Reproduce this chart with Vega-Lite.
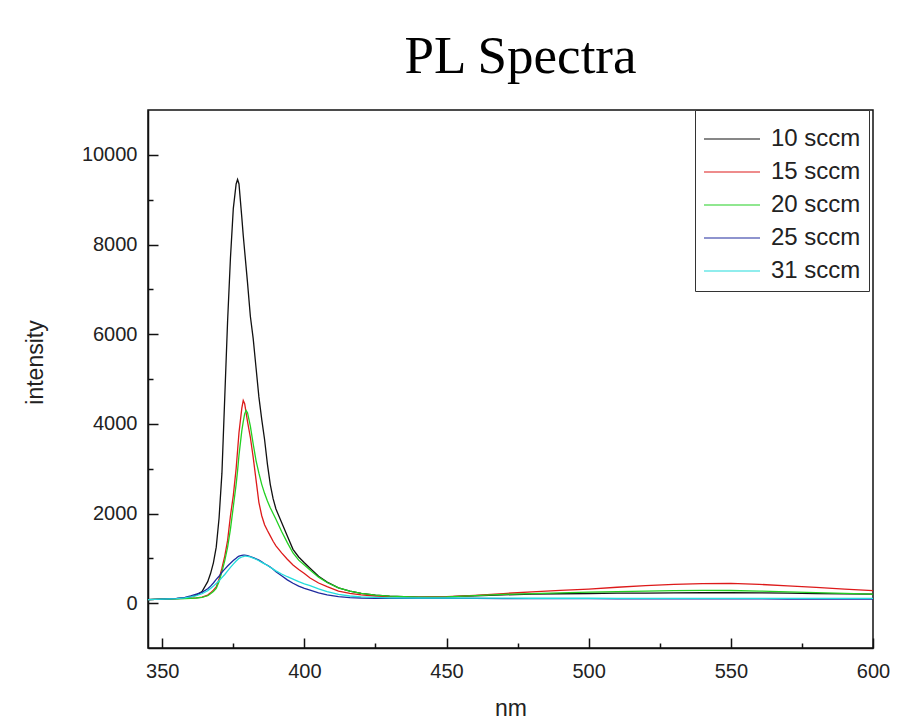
{
  "$schema": "https://vega.github.io/schema/vega-lite/v6.json",
  "width": 725,
  "height": 538,
  "autosize": {"type": "none"},
  "padding": {"left": 148, "top": 110, "right": 26, "bottom": 72},
  "background": "white",
  "title": {"text": "PL Spectra", "font": "Liberation Serif", "fontSize": 53, "fontWeight": "normal", "color": "#000000", "anchor": "middle", "dx": 10, "baseline": "alphabetic", "offset": -16},
  "config": {"view": {"stroke": "#111111", "strokeWidth": 1.5}},
  "data": {"values": [
    {"nm": 345, "10 sccm": 80, "15 sccm": 80, "20 sccm": 80, "25 sccm": 80, "31 sccm": 80},
    {"nm": 350, "10 sccm": 90, "15 sccm": 90, "20 sccm": 90, "25 sccm": 90, "31 sccm": 90},
    {"nm": 355, "10 sccm": 100, "15 sccm": 100, "20 sccm": 95, "25 sccm": 105, "31 sccm": 100},
    {"nm": 358, "10 sccm": 115, "15 sccm": 105, "20 sccm": 100, "25 sccm": 130, "31 sccm": 120},
    {"nm": 360, "10 sccm": 140, "15 sccm": 110, "20 sccm": 105, "25 sccm": 160, "31 sccm": 140},
    {"nm": 362, "10 sccm": 180, "15 sccm": 120, "20 sccm": 115, "25 sccm": 200, "31 sccm": 170},
    {"nm": 364, "10 sccm": 260, "15 sccm": 135, "20 sccm": 130, "25 sccm": 240, "31 sccm": 210},
    {"nm": 366, "10 sccm": 480, "15 sccm": 180, "20 sccm": 165, "25 sccm": 320, "31 sccm": 280},
    {"nm": 367, "10 sccm": 660, "15 sccm": 230, "20 sccm": 210, "25 sccm": 380, "31 sccm": 330},
    {"nm": 368, "10 sccm": 900, "15 sccm": 290, "20 sccm": 260, "25 sccm": 450, "31 sccm": 380},
    {"nm": 369, "10 sccm": 1250, "15 sccm": 360, "20 sccm": 330, "25 sccm": 530, "31 sccm": 440},
    {"nm": 370, "10 sccm": 1900, "15 sccm": 540, "20 sccm": 480, "25 sccm": 600, "31 sccm": 500},
    {"nm": 371, "10 sccm": 2900, "15 sccm": 780, "20 sccm": 700, "25 sccm": 690, "31 sccm": 570},
    {"nm": 372, "10 sccm": 4600, "15 sccm": 1050, "20 sccm": 950, "25 sccm": 760, "31 sccm": 640},
    {"nm": 373, "10 sccm": 6300, "15 sccm": 1400, "20 sccm": 1250, "25 sccm": 830, "31 sccm": 720},
    {"nm": 374, "10 sccm": 7700, "15 sccm": 1950, "20 sccm": 1650, "25 sccm": 890, "31 sccm": 800},
    {"nm": 375, "10 sccm": 8800, "15 sccm": 2400, "20 sccm": 2150, "25 sccm": 950, "31 sccm": 870},
    {"nm": 376, "10 sccm": 9350, "15 sccm": 3000, "20 sccm": 2650, "25 sccm": 1000, "31 sccm": 940},
    {"nm": 376.5, "10 sccm": 9450, "15 sccm": 3400, "20 sccm": 2950, "25 sccm": 1030, "31 sccm": 970},
    {"nm": 377, "10 sccm": 9350, "15 sccm": 3800, "20 sccm": 3300, "25 sccm": 1050, "31 sccm": 1000},
    {"nm": 378, "10 sccm": 8600, "15 sccm": 4350, "20 sccm": 3850, "25 sccm": 1065, "31 sccm": 1030},
    {"nm": 378.5, "10 sccm": 8200, "15 sccm": 4520, "20 sccm": 4050, "25 sccm": 1071, "31 sccm": 1040},
    {"nm": 379, "10 sccm": 7850, "15 sccm": 4450, "20 sccm": 4220, "25 sccm": 1070, "31 sccm": 1048},
    {"nm": 379.5, "10 sccm": 7500, "15 sccm": 4250, "20 sccm": 4300, "25 sccm": 1068, "31 sccm": 1050},
    {"nm": 380, "10 sccm": 7150, "15 sccm": 4050, "20 sccm": 4250, "25 sccm": 1060, "31 sccm": 1045},
    {"nm": 381, "10 sccm": 6400, "15 sccm": 3700, "20 sccm": 3950, "25 sccm": 1040, "31 sccm": 1030},
    {"nm": 382, "10 sccm": 5900, "15 sccm": 3250, "20 sccm": 3550, "25 sccm": 1015, "31 sccm": 1005},
    {"nm": 383, "10 sccm": 5250, "15 sccm": 2750, "20 sccm": 3180, "25 sccm": 990, "31 sccm": 980},
    {"nm": 384, "10 sccm": 4600, "15 sccm": 2250, "20 sccm": 2900, "25 sccm": 960, "31 sccm": 945},
    {"nm": 385, "10 sccm": 4100, "15 sccm": 1950, "20 sccm": 2650, "25 sccm": 920, "31 sccm": 910},
    {"nm": 386, "10 sccm": 3650, "15 sccm": 1750, "20 sccm": 2450, "25 sccm": 880, "31 sccm": 875},
    {"nm": 387, "10 sccm": 3100, "15 sccm": 1620, "20 sccm": 2280, "25 sccm": 845, "31 sccm": 840},
    {"nm": 388, "10 sccm": 2650, "15 sccm": 1500, "20 sccm": 2130, "25 sccm": 805, "31 sccm": 800},
    {"nm": 389, "10 sccm": 2330, "15 sccm": 1380, "20 sccm": 2000, "25 sccm": 755, "31 sccm": 760},
    {"nm": 390, "10 sccm": 2100, "15 sccm": 1280, "20 sccm": 1870, "25 sccm": 700, "31 sccm": 720},
    {"nm": 392, "10 sccm": 1800, "15 sccm": 1120, "20 sccm": 1600, "25 sccm": 610, "31 sccm": 650},
    {"nm": 394, "10 sccm": 1500, "15 sccm": 980, "20 sccm": 1350, "25 sccm": 520, "31 sccm": 590},
    {"nm": 396, "10 sccm": 1200, "15 sccm": 850, "20 sccm": 1120, "25 sccm": 445, "31 sccm": 535},
    {"nm": 398, "10 sccm": 1030, "15 sccm": 750, "20 sccm": 960, "25 sccm": 380, "31 sccm": 480},
    {"nm": 400, "10 sccm": 900, "15 sccm": 660, "20 sccm": 850, "25 sccm": 330, "31 sccm": 430},
    {"nm": 402, "10 sccm": 780, "15 sccm": 560, "20 sccm": 740, "25 sccm": 290, "31 sccm": 390},
    {"nm": 405, "10 sccm": 600, "15 sccm": 450, "20 sccm": 580, "25 sccm": 230, "31 sccm": 320},
    {"nm": 408, "10 sccm": 470, "15 sccm": 370, "20 sccm": 460, "25 sccm": 185, "31 sccm": 260},
    {"nm": 412, "10 sccm": 340, "15 sccm": 270, "20 sccm": 340, "25 sccm": 145, "31 sccm": 195},
    {"nm": 416, "10 sccm": 270, "15 sccm": 220, "20 sccm": 270, "25 sccm": 125, "31 sccm": 160},
    {"nm": 420, "10 sccm": 220, "15 sccm": 185, "20 sccm": 220, "25 sccm": 115, "31 sccm": 140},
    {"nm": 425, "10 sccm": 180, "15 sccm": 160, "20 sccm": 180, "25 sccm": 110, "31 sccm": 128},
    {"nm": 430, "10 sccm": 155, "15 sccm": 145, "20 sccm": 155, "25 sccm": 108, "31 sccm": 120},
    {"nm": 440, "10 sccm": 135, "15 sccm": 135, "20 sccm": 135, "25 sccm": 105, "31 sccm": 115},
    {"nm": 450, "10 sccm": 140, "15 sccm": 145, "20 sccm": 140, "25 sccm": 105, "31 sccm": 115},
    {"nm": 460, "10 sccm": 165, "15 sccm": 175, "20 sccm": 170, "25 sccm": 105, "31 sccm": 112},
    {"nm": 470, "10 sccm": 185, "15 sccm": 215, "20 sccm": 195, "25 sccm": 103, "31 sccm": 112},
    {"nm": 480, "10 sccm": 200, "15 sccm": 250, "20 sccm": 215, "25 sccm": 102, "31 sccm": 110},
    {"nm": 490, "10 sccm": 210, "15 sccm": 285, "20 sccm": 230, "25 sccm": 100, "31 sccm": 110},
    {"nm": 500, "10 sccm": 216, "15 sccm": 315, "20 sccm": 245, "25 sccm": 100, "31 sccm": 110},
    {"nm": 510, "10 sccm": 222, "15 sccm": 355, "20 sccm": 258, "25 sccm": 98, "31 sccm": 108},
    {"nm": 520, "10 sccm": 226, "15 sccm": 390, "20 sccm": 270, "25 sccm": 97, "31 sccm": 108},
    {"nm": 530, "10 sccm": 230, "15 sccm": 420, "20 sccm": 280, "25 sccm": 96, "31 sccm": 107},
    {"nm": 540, "10 sccm": 232, "15 sccm": 435, "20 sccm": 285, "25 sccm": 95, "31 sccm": 106},
    {"nm": 550, "10 sccm": 232, "15 sccm": 440, "20 sccm": 282, "25 sccm": 95, "31 sccm": 105},
    {"nm": 560, "10 sccm": 230, "15 sccm": 420, "20 sccm": 270, "25 sccm": 94, "31 sccm": 105},
    {"nm": 570, "10 sccm": 222, "15 sccm": 385, "20 sccm": 250, "25 sccm": 93, "31 sccm": 105},
    {"nm": 580, "10 sccm": 215, "15 sccm": 350, "20 sccm": 235, "25 sccm": 92, "31 sccm": 105},
    {"nm": 590, "10 sccm": 208, "15 sccm": 315, "20 sccm": 218, "25 sccm": 91, "31 sccm": 105},
    {"nm": 600, "10 sccm": 200, "15 sccm": 280, "20 sccm": 200, "25 sccm": 90, "31 sccm": 105}
  ]},
  "transform": [{"fold": ["10 sccm", "15 sccm", "20 sccm", "25 sccm", "31 sccm"], "as": ["series", "intensity"]}],
  "mark": {"type": "line", "strokeWidth": 1.3, "clip": true},
  "encoding": {
    "x": {
      "field": "nm", "type": "quantitative",
      "scale": {"domain": [345, 600], "nice": false, "zero": false},
      "axis": {
        "title": "nm",
        "values": [350, 375, 400, 425, 450, 475, 500, 525, 550, 575, 600],
        "labelExpr": "datum.value % 50 === 0 ? datum.label : ''",
        "tickSize": {"condition": {"test": "datum.value % 50 === 0", "value": -10}, "value": -5},
        "grid": false,
        "domainColor": "#111111", "domainWidth": 1.5,
        "tickColor": "#111111", "tickWidth": 1.5,
        "labelFont": "Liberation Sans", "labelFontSize": 20, "labelColor": "#222222",
        "labelPadding": 23, "labelFlush": false, "labelOverlap": false,
        "titleFont": "Liberation Sans", "titleFontSize": 23, "titleFontWeight": "normal", "titleColor": "#222222",
        "titleY": 67, "titleBaseline": "alphabetic"
      }
    },
    "y": {
      "field": "intensity", "type": "quantitative",
      "scale": {"domain": [-1000, 11000], "nice": false, "zero": false},
      "axis": {
        "title": "intensity",
        "values": [0, 1000, 2000, 3000, 4000, 5000, 6000, 7000, 8000, 9000, 10000],
        "labelExpr": "datum.value % 2000 === 0 ? format(datum.value, 'd') : ''",
        "tickSize": {"condition": {"test": "datum.value % 2000 === 0", "value": -10}, "value": -5},
        "grid": false,
        "domainColor": "#111111", "domainWidth": 1.5,
        "tickColor": "#111111", "tickWidth": 1.5,
        "labelFont": "Liberation Sans", "labelFontSize": 20, "labelColor": "#222222",
        "labelPadding": 21, "labelFlush": false, "labelOverlap": false,
        "titleFont": "Liberation Sans", "titleFontSize": 23, "titleFontWeight": "normal", "titleColor": "#222222",
        "titleX": -113, "titleY": 252, "titleAngle": 270, "titleBaseline": "middle", "titleAlign": "center"
      }
    },
    "color": {
      "field": "series", "type": "nominal",
      "scale": {"domain": ["10 sccm", "15 sccm", "20 sccm", "25 sccm", "31 sccm"], "range": ["#111111", "#dd1a1a", "#22d022", "#1e2a9e", "#22dcdc"]},
      "legend": {
        "orient": "none", "legendX": 547, "legendY": 0, "title": null,
        "symbolType": "M-1,0H1.8", "symbolSize": 1600, "symbolStrokeWidth": 1.2,
        "labelFont": "Liberation Sans", "labelFontSize": 24, "labelColor": "#222222", "labelOffset": 26,
        "rowPadding": -2,
        "strokeColor": "#333333", "fillColor": "white", "padding": 8
      }
    }
  }
}
